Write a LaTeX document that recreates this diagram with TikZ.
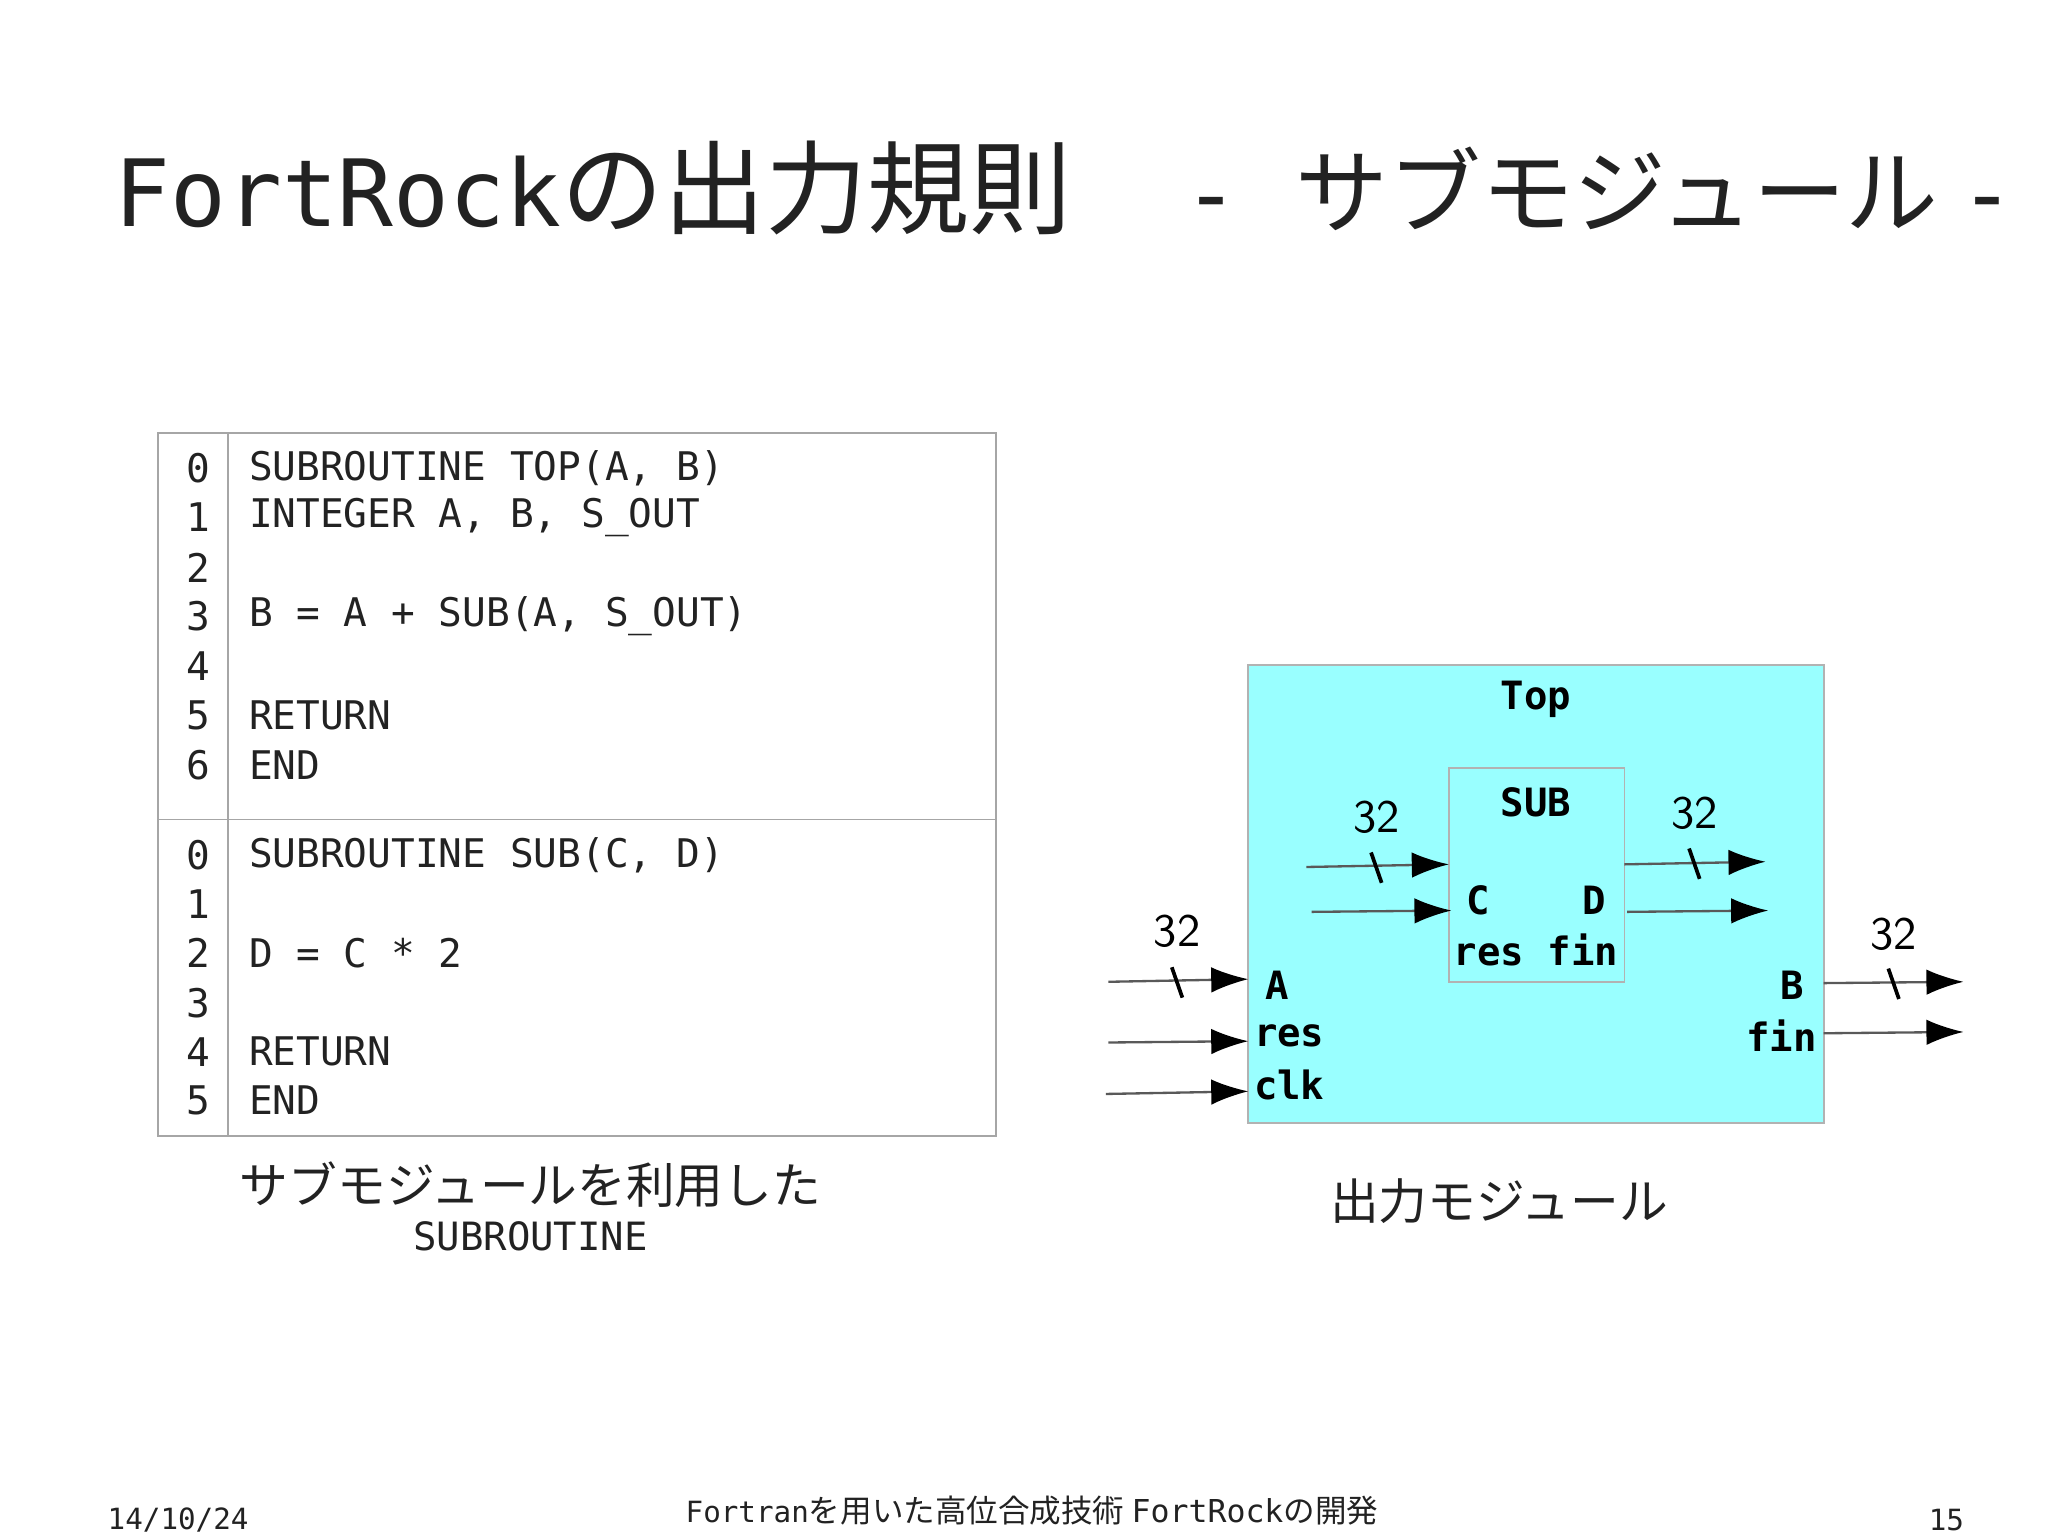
\documentclass[tikz,border=0pt]{standalone}
\usepackage{fontspec}
\setmonofont{DejaVu Sans Mono}
\newfontfamily\jp{Noto Sans CJK JP}
\usetikzlibrary{arrows.meta}
\definecolor{boxc}{HTML}{99FFFF}
\definecolor{txt}{HTML}{222222}
\tikzset{
 code/.style={anchor=west,font=\ttfamily\fontsize{8.5}{10}\selectfont,text=txt,inner sep=0},
 num/.style={font=\ttfamily\fontsize{8.5}{10}\selectfont,text=txt,inner sep=0},
 lbl/.style={font=\ttfamily\bfseries\fontsize{8.4}{10}\selectfont,inner sep=0},
 wid/.style={font=\sffamily\fontsize{10}{10}\selectfont,inner sep=0},
 sig/.style={draw=gray!70!black,line width=0.5pt,-{Latex[length=8pt,width=5.5pt,color=black]}},
 slash/.style={line width=0.8pt},
}
\begin{document}
\begin{tikzpicture}[x=0.01cm,y=-0.01cm]
\useasboundingbox (0,0) rectangle (1552,1163);
% title
\node[anchor=base west,inner sep=0,text=txt] (title) at (86,172) {\ttfamily\fontsize{20}{24}\selectfont FortRock\jp\fontsize{22}{24}\selectfont の出力規則\ttfamily\fontsize{20}{24}\selectfont\ \ -\ \jp\fontsize{20}{24}\selectfont サブモジュール\ \ttfamily -};
% table
\draw[gray!70] (120,328) rectangle (755,861);
\draw[gray!70] (120,621) -- (755,621);
\draw[gray!70] (173,328) -- (173,861);
\foreach \n/\y/\t in {0/355/SUBROUTINE TOP(A{,} B),1/392/INTEGER A{,} B{,} S\_OUT,2/430/,3/467/B = A + SUB(A{,} S\_OUT),4/505/,5/542/RETURN,6/580/END}{
 \node[num] (na\n) at (150,\y) {\n};
 \node[code] (ca\n) at (188,\y) {\t};
}
\foreach \n/\y/\t in {0/648/SUBROUTINE SUB(C{,} D),1/685/,2/722/D = C * 2,3/760/,4/797/RETURN,5/834/END}{
 \node[num] (nb\n) at (150,\y) {\n};
 \node[code] (cb\n) at (188,\y) {\t};
}
\node[inner sep=0,text=txt,font=\jp\fontsize{10.5}{12}\selectfont] (cap1) at (402,898) {サブモジュールを利用した};
\node[inner sep=0,text=txt,font=\ttfamily\fontsize{8.4}{10}\selectfont] (cap1b) at (402,937) {SUBROUTINE};
\node[inner sep=0,text=txt,font=\jp\fontsize{10.5}{12}\selectfont] (cap2) at (1136,910) {出力モジュール};
% boxes
\node[draw=gray!60,fill=boxc,minimum width=436*0.01cm,minimum height=347*0.01cm,inner sep=0] (top) at (1164,677.5) {};
\node[draw=gray!60,fill=boxc,minimum width=133*0.01cm,minimum height=162*0.01cm,inner sep=0] (sub) at (1164.5,663) {};
\node[lbl] (ttop) at (1164,530) {Top};
\node[lbl] (tsub) at (1164,608) {SUB};
\node[lbl] (pc) at (1120,682) {C};
\node[lbl] (pd) at (1208,682) {D};
\node[lbl] (prf) at (1164,720) {res fin};
\node[lbl] (pa) at (968,747) {A};
\node[lbl] (pres) at (977,785) {res};
\node[lbl] (pclk) at (977,822) {clk};
\node[lbl] (pb) at (1358,747) {B};
\node[lbl] (pfin) at (1350,785) {fin};
\node[wid] (w1) at (892,706) {32};
\node[wid] (w2) at (1043,619) {32};
\node[wid] (w3) at (1284,616) {32};
\node[wid] (w4) at (1435,708) {32};
% arrows
\coordinate (i1) at (840,744); \coordinate (i1e) at (946,742);
\coordinate (i2) at (840,790); \coordinate (i2e) at (946,789);
\coordinate (i3) at (838,829); \coordinate (i3e) at (946,827);
\coordinate (s1) at (990,657); \coordinate (s1e) at (1098,655);
\coordinate (s2) at (994,691); \coordinate (s2e) at (1100,690);
\coordinate (o1) at (1231,655); \coordinate (o1e) at (1338,653);
\coordinate (o2) at (1233,691); \coordinate (o2e) at (1340,690);
\coordinate (b1) at (1382,745); \coordinate (b1e) at (1488,744);
\coordinate (b2) at (1382,783); \coordinate (b2e) at (1488,782);
\foreach \a in {i1,i2,i3,s1,s2,o1,o2,b1,b2}{\draw[sig] (\a) -- (\a e);}
\foreach \x/\y in {892/744,1043/657,1284/654,1435/745}{\draw[slash,black] (\x-4,\y-11) -- (\x+4,\y+12);}
% footer
\node[inner sep=0,text=txt,font=\ttfamily\fontsize{6.3}{8}\selectfont] (date) at (135,1152) {14/10/24};
\node[inner sep=0,text=txt,font=\ttfamily\fontsize{6.3}{8}\selectfont] (foot) at (782,1145) {Fortran\jp\fontsize{6.8}{8}\selectfont を用いた高位合成技術 \ttfamily FortRock\jp\fontsize{6.8}{8}\selectfont の開発};
\node[inner sep=0,text=txt,font=\ttfamily\fontsize{6.3}{8}\selectfont] (page) at (1475,1152) {15};
\end{tikzpicture}
\end{document}
